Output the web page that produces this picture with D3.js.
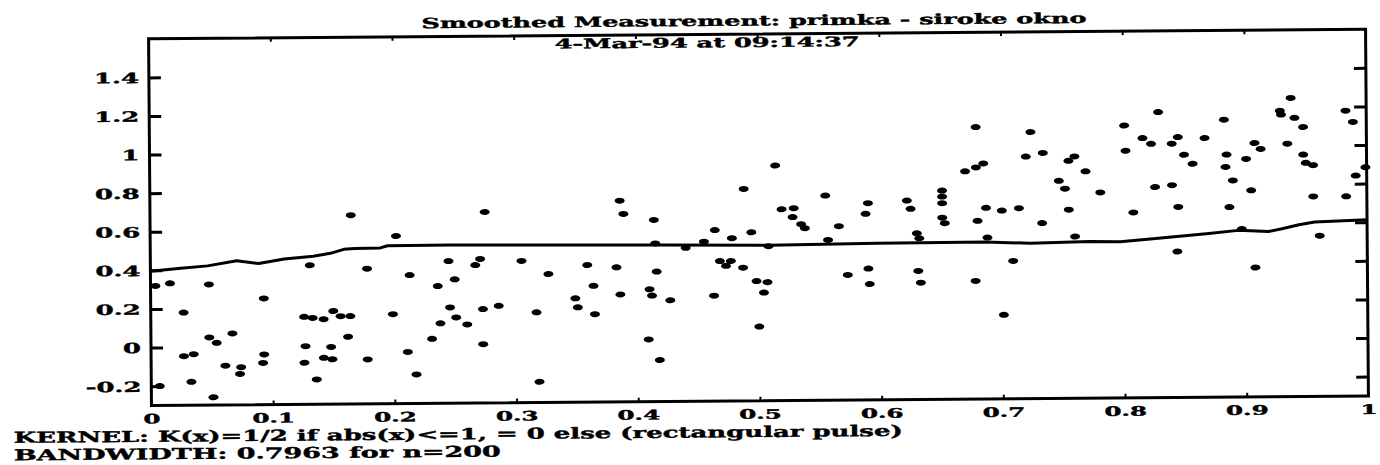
<!DOCTYPE html>
<html>
<head>
<meta charset="utf-8">
<script src="https://cdn.jsdelivr.net/npm/d3@7"></script>
<style>
  html, body { margin: 0; padding: 0; background: #fff; }
  svg { display: block; }
  text { font-family: "DejaVu Serif", serif; font-weight: bold; fill: #000; stroke: #000; stroke-width: 0.4px; }
</style>
</head>
<body>
<svg id="chart" width="1380" height="465"></svg>
<script>
// ---- text ----
const titleText = "Smoothed Measurement: primka - siroke okno";
const subtitleText = "4-Mar-94 at 09:14:37";
const kernelText = "KERNEL: K(x)=1/2 if abs(x)<=1, = 0 else (rectangular pulse)";
const bandwidthText = "BANDWIDTH: 0.7963 for n=200";

// ---- ticks ----
const xTickValues = [0, 0.1, 0.2, 0.3, 0.4, 0.5, 0.6, 0.7, 0.8, 0.9, 1];
const xTickLabels = ["0", "0.1", "0.2", "0.3", "0.4", "0.5", "0.6", "0.7", "0.8", "0.9", "1"];
const yTickValues = [-0.2, 0, 0.2, 0.4, 0.6, 0.8, 1, 1.2, 1.4];
const yTickLabels = ["-0.2", "0", "0.2", "0.4", "0.6", "0.8", "1", "1.2", "1.4"];

// ---- measured samples ----
const sampleX = [
  0.004, 0.007, 0.016, 0.027, 0.027, 0.033, 0.035, 0.048, 0.048, 0.051,
  0.054, 0.061, 0.067, 0.073, 0.074, 0.092, 0.093, 0.093, 0.126, 0.126,
  0.127, 0.131, 0.133, 0.136, 0.142, 0.142, 0.148, 0.149, 0.150, 0.156,
  0.162, 0.164, 0.165, 0.178, 0.178, 0.199, 0.202, 0.211, 0.213, 0.218,
  0.231, 0.236, 0.238, 0.245, 0.246, 0.250, 0.251, 0.260, 0.267, 0.271,
  0.273, 0.273, 0.275, 0.286, 0.305, 0.317, 0.319, 0.327, 0.349, 0.351,
  0.359, 0.364, 0.365, 0.383, 0.386, 0.386, 0.389, 0.409, 0.410, 0.412,
  0.414, 0.415, 0.416, 0.418, 0.427, 0.440, 0.455, 0.463, 0.464, 0.468,
  0.473, 0.477, 0.478, 0.487, 0.488, 0.494, 0.498, 0.500, 0.504, 0.507,
  0.508, 0.514, 0.519, 0.528, 0.529, 0.535, 0.538, 0.555, 0.557, 0.566,
  0.573, 0.588, 0.590, 0.590, 0.591, 0.622, 0.625, 0.630, 0.631, 0.632,
  0.633, 0.651, 0.651, 0.651, 0.651, 0.653, 0.670, 0.678, 0.679, 0.679,
  0.680, 0.685, 0.687, 0.688, 0.700, 0.701, 0.709, 0.714, 0.720, 0.724,
  0.733, 0.734, 0.747, 0.752, 0.755, 0.755, 0.760, 0.760, 0.769, 0.781,
  0.801, 0.802, 0.808, 0.816, 0.823, 0.826, 0.829, 0.840, 0.840, 0.844,
  0.845, 0.845, 0.850, 0.857, 0.867, 0.883, 0.884, 0.885, 0.887, 0.890,
  0.897, 0.901, 0.905, 0.908, 0.908, 0.913, 0.929, 0.930, 0.935, 0.938,
  0.941, 0.948, 0.948, 0.950, 0.956, 0.956, 0.961, 0.983, 0.983, 0.989,
  0.991, 0.999
];
const sampleY = [
  0.319, -0.200, 0.332, 0.180, -0.046, -0.179, -0.036, 0.325, 0.050, -0.260,
  0.022, -0.097, 0.070, -0.140, -0.105, -0.084, 0.250, -0.040, 0.153, -0.085,
  0.001, 0.420, 0.147, -0.172, 0.140, -0.060, -0.004, -0.068, 0.182, 0.155,
  0.048, 0.155, 0.678, 0.400, -0.070, 0.163, 0.568, -0.033, 0.365, -0.150,
  0.034, 0.307, 0.114, 0.436, 0.196, 0.341, 0.144, 0.107, 0.414, 0.446,
  0.186, 0.004, 0.689, 0.202, 0.434, 0.167, -0.193, 0.365, 0.238, 0.191,
  0.410, 0.302, 0.155, 0.397, 0.742, 0.256, 0.673, 0.022, 0.282, 0.249,
  0.641, 0.519, 0.373, -0.085, 0.224, 0.495, 0.526, 0.246, 0.586, 0.425,
  0.400, 0.425, 0.543, 0.390, 0.798, 0.573, 0.320, 0.084, 0.260, 0.314,
  0.500, 0.918, 0.691, 0.650, 0.696, 0.613, 0.592, 0.760, 0.530, 0.601,
  0.348, 0.664, 0.719, 0.380, 0.300, 0.731, 0.688, 0.561, 0.366, 0.535,
  0.305, 0.781, 0.750, 0.716, 0.641, 0.612, 0.880, 0.312, 1.109, 0.900,
  0.623, 0.920, 0.690, 0.536, 0.675, 0.135, 0.414, 0.687, 0.954, 1.081,
  0.609, 0.972, 0.827, 0.786, 0.930, 0.677, 0.953, 0.538, 0.875, 0.765,
  1.111, 0.980, 0.660, 1.045, 1.015, 0.791, 1.179, 1.015, 0.800, 0.456,
  1.049, 0.687, 0.957, 0.910, 1.043, 1.137, 0.892, 0.956, 0.684, 0.822,
  0.570, 0.933, 0.770, 1.015, 0.370, 0.984, 1.181, 1.161, 1.010, 1.247,
  1.144, 1.096, 0.953, 0.910, 0.898, 0.736, 0.532, 1.179, 0.735, 1.120,
  0.842, 0.885
];

// ---- kernel smoother output ----
const smoothX = [0, 0.025, 0.047, 0.071, 0.089, 0.110, 0.134, 0.148, 0.159, 0.168,
  0.189, 0.195, 0.247, 0.340, 0.420, 0.509, 0.597, 0.686, 0.723, 0.772,
  0.797, 0.824, 0.859, 0.870, 0.894, 0.919, 0.930, 0.944, 0.957, 1.0];
const smoothY = [0.396, 0.410, 0.421, 0.446, 0.431, 0.453, 0.467, 0.481, 0.501, 0.505,
  0.507, 0.518, 0.519, 0.514, 0.511, 0.505, 0.511, 0.513, 0.505, 0.511,
  0.509, 0.523, 0.542, 0.548, 0.563, 0.556, 0.570, 0.590, 0.603, 0.613];

// ---- layout ----
const plot = { left: 150, right: 1367, top: 34, bottom: 400.7 };
const ink = "#000";

const svg = d3.select("#chart");
svg.append("rect").attr("width", 1380).attr("height", 465).attr("fill", "#fff");

// the whole page sits slightly tilted
const root = svg.append("g").attr("transform", "rotate(-0.45 758 217)");

const x = d3.scaleLinear().domain([0, 1]).range([plot.left, plot.right]);
const y = d3.scaleLinear().domain([-0.3, 1.6]).range([plot.bottom, plot.top]);

// helper: widen a text element horizontally so it spans a given width
function fitWidth(sel, width) {
  sel.attr("textLength", width).attr("lengthAdjust", "spacingAndGlyphs");
}

// title lines
root.append("text").attr("x", 423).attr("y", 25.5)
  .style("font-size", "14px").text(titleText).call(fitWidth, 665);
root.append("text").attr("x", 556).attr("y", 47)
  .style("font-size", "13.5px").text(subtitleText).call(fitWidth, 305);

// kernel notes
root.append("text").attr("x", 12).attr("y", 437)
  .style("font-size", "15px").text(kernelText).call(fitWidth, 889);
root.append("text").attr("x", 12).attr("y", 454.5)
  .style("font-size", "15px").text(bandwidthText).call(fitWidth, 487);

// horizontal stretch factor for tick labels
const probe = root.append("text").style("font-size", "14px").text("0.8");
const labelScale = 45 / probe.node().getComputedTextLength();
probe.remove();

function styleTicks(g, width) {
  g.select(".domain").remove();
  g.selectAll(".tick line").attr("stroke", ink).attr("stroke-width", width);
}

// left axis with labels
root.append("g").attr("transform", `translate(${plot.left},0)`)
  .call(d3.axisLeft(y).tickValues(yTickValues)
    .tickFormat((d, i) => yTickLabels[i]).tickSize(-12).tickPadding(10))
  .call(g => styleTicks(g, 3))
  .call(g => g.selectAll(".tick text")
    .attr("fill", ink).style("font-size", "14px")
    .attr("x", -10 / labelScale).attr("dy", "0.36em")
    .attr("transform", `scale(${labelScale},1)`));

// right axis, ticks only
root.append("g").attr("transform", `translate(${plot.right},0)`)
  .call(d3.axisRight(y).tickValues(yTickValues).tickFormat("").tickSize(-12))
  .call(g => styleTicks(g, 3));

// bottom axis with labels
root.append("g").attr("transform", `translate(0,${plot.bottom})`)
  .call(d3.axisBottom(x).tickValues(xTickValues)
    .tickFormat((d, i) => xTickLabels[i]).tickSize(-4).tickPadding(0))
  .call(g => styleTicks(g, 2))
  .call(g => g.selectAll(".tick text")
    .attr("fill", ink).style("font-size", "13px")
    .attr("y", 18).attr("dy", null)
    .attr("transform", `scale(${labelScale * 1.02},1)`));

// top axis, ticks only
root.append("g").attr("transform", `translate(0,${plot.top})`)
  .call(d3.axisTop(x).tickValues(xTickValues).tickFormat("").tickSize(-4))
  .call(g => styleTicks(g, 2));

// frame
root.append("rect")
  .attr("x", plot.left).attr("y", plot.top)
  .attr("width", plot.right - plot.left).attr("height", plot.bottom - plot.top)
  .attr("fill", "none").attr("stroke", ink).attr("stroke-width", 3);

// smoothed curve
const line = d3.line().x(d => x(d[0])).y(d => y(d[1]));
root.append("path")
  .datum(smoothX.map((v, i) => [v, smoothY[i]]))
  .attr("d", line)
  .attr("fill", "none").attr("stroke", ink).attr("stroke-width", 3)
  .attr("stroke-linejoin", "round");

// measurements
root.append("g").selectAll("ellipse")
  .data(sampleX.map((v, i) => [v, sampleY[i]]))
  .join("ellipse")
  .attr("cx", d => x(d[0])).attr("cy", d => y(d[1]))
  .attr("rx", 5).attr("ry", 3)
  .attr("fill", ink);
</script>
</body>
</html>
